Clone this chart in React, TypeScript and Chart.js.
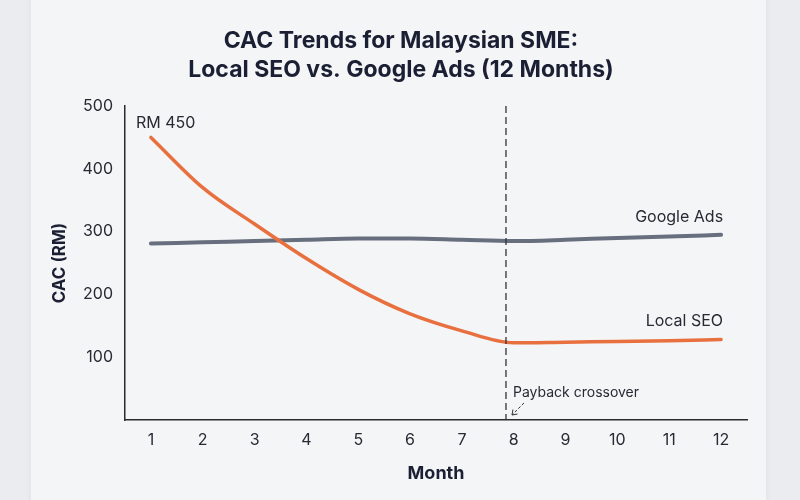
import { useEffect, useRef } from "react";
import { Chart, registerables } from "chart.js";

Chart.register(...registerables);

const months = ["1", "2", "3", "4", "5", "6", "7", "8", "9", "10", "11", "12"];
const localSEO = [450, 370, 312, 257, 208, 169, 142, 123, 124, 125, 126, 128];
const googleAds = [281, 283, 285, 287, 289, 289, 287, 285, 287, 290, 292, 295];
const yTicks = [100, 200, 300, 400, 500];
const crossoverIndex = 6.85; // category index (month 7.85)
const titleLines = ["CAC Trends for Malaysian SME:", "Local SEO vs. Google Ads (12 Months)"];
const startLabel = "RM 450";
const crossoverLabel = "Payback crossover";

const FONT = "Inter, 'Noto Sans', sans-serif";
const ORANGE = "#E8703F";
const GRAY = "#676E7D";
const TEXT = "#262a33";

const decorPlugin = {
  id: "decor",
  beforeDraw(chart: any) {
    const { ctx, width, height } = chart;
    ctx.save();
    ctx.fillStyle = "#eaecef";
    ctx.fillRect(0, 0, width, height);
    ctx.shadowColor = "rgba(0,0,0,0.06)";
    ctx.shadowBlur = 6;
    ctx.fillStyle = "#f4f5f7";
    ctx.fillRect(31, -10, 735, height + 20);
    ctx.restore();

    // title
    ctx.save();
    ctx.fillStyle = "#1b1f33";
    ctx.font = `bold 23px ${FONT}`;
    ctx.textAlign = "center";
    ctx.textBaseline = "middle";
    titleLines.forEach((t, i) => ctx.fillText(t, 401, 41 + i * 28.7));
    ctx.restore();
  },
  afterDatasetsDraw(chart: any) {
    const { ctx, chartArea, scales } = chart;
    const x = scales.x;
    const y = scales.y;
    ctx.save();
    // dashed crossover line
    const dx = x.getPixelForValue(crossoverIndex);
    ctx.strokeStyle = "#333";
    ctx.lineWidth = 1.3;
    ctx.setLineDash([7, 4]);
    ctx.beginPath();
    ctx.moveTo(dx, chartArea.top);
    ctx.lineTo(dx, chartArea.bottom);
    ctx.stroke();

    // arrow
    const ax1 = dx + 18, ay1 = chartArea.bottom - 17;
    const ax2 = dx + 6, ay2 = chartArea.bottom - 5;
    ctx.lineWidth = 1;
    ctx.setLineDash([3, 2]);
    ctx.beginPath();
    ctx.moveTo(ax1, ay1);
    ctx.lineTo(ax2, ay2);
    ctx.stroke();
    ctx.setLineDash([]);
    ctx.beginPath();
    ctx.moveTo(ax2, ay2);
    ctx.lineTo(ax2 + 5.5, ay2 - 1);
    ctx.moveTo(ax2, ay2);
    ctx.lineTo(ax2 + 1, ay2 - 5.5);
    ctx.stroke();

    ctx.fillStyle = TEXT;
    ctx.textBaseline = "middle";
    ctx.font = `14px ${FONT}`;
    ctx.textAlign = "left";
    ctx.fillText(crossoverLabel, dx + 7, chartArea.bottom - 27);

    // start label
    ctx.font = `16px ${FONT}`;
    const p0x = x.getPixelForValue(0);
    const p0y = y.getPixelForValue(localSEO[0]);
    ctx.fillText(startLabel, p0x - 15, p0y - 14);

    // series labels
    const last = months.length - 1;
    const lx = x.getPixelForValue(last) + 2;
    ctx.textAlign = "right";
    ctx.fillText("Google Ads", lx, y.getPixelForValue(googleAds[last]) - 18);
    ctx.fillText("Local SEO", lx, y.getPixelForValue(localSEO[last]) - 18);
    ctx.restore();
  },
};

export default function App() {
  const ref = useRef<HTMLCanvasElement | null>(null);
  useEffect(() => {
    document.body.style.margin = "0";
    if (!ref.current) return;
    const chart = new Chart(ref.current, {
      type: "line",
      data: {
        labels: months,
        datasets: [
          {
            label: "Local SEO",
            data: localSEO,
            borderColor: ORANGE,
            borderWidth: 3.5,
            pointRadius: 0,
            cubicInterpolationMode: "monotone",
            borderCapStyle: "round",
            order: 0,
          },
          {
            label: "Google Ads",
            data: googleAds,
            borderColor: GRAY,
            borderWidth: 4,
            pointRadius: 0,
            cubicInterpolationMode: "monotone",
            borderCapStyle: "round",
            order: 1,
          },
        ],
      },
      options: {
        responsive: false,
        animation: false,
        devicePixelRatio: 1,
        layout: { padding: { left: 0, right: 53, top: 106, bottom: 0 } },
        plugins: {
          legend: { display: false },
          tooltip: { enabled: false },
          title: { display: false },
        },
        scales: {
          x: {
            type: "category",
            offset: true,
            grid: { display: false, drawTicks: false },
            border: { display: true, color: "#2b2b2b", width: 1.5 },
            ticks: { color: TEXT, font: { family: FONT, size: 16 }, padding: 11, maxRotation: 0, autoSkip: false },
            title: {
              display: true,
              text: "Month",
              color: "#1b1f33",
              font: { family: FONT, size: 18, weight: "bold", lineHeight: 1.2 },
              padding: { top: 0, bottom: 16 },
            },
            afterFit: (s: any) => {
              s.height = 80;
            },
          },
          y: {
            type: "linear",
            min: 0,
            max: 500,
            grid: { display: false, drawTicks: false },
            border: { display: true, color: "#2b2b2b", width: 1.5 },
            ticks: { color: TEXT, font: { family: FONT, size: 16 }, padding: 12 },
            afterBuildTicks: (s: any) => {
              s.ticks = yTicks.map((v) => ({ value: v }));
            },
            title: {
              display: true,
              text: "CAC (RM)",
              color: "#1b1f33",
              font: { family: FONT, size: 17, weight: "bold", lineHeight: 1.2 },
              padding: { top: 50, bottom: 0 },
            },
            afterFit: (s: any) => {
              s.width = 125;
            },
          },
        },
      },
      plugins: [decorPlugin],
    } as any);
    return () => chart.destroy();
  }, []);
  return (
    <div style={{ width: 800, height: 500 }}>
      <canvas ref={ref} width={800} height={500} style={{ display: "block" }} />
    </div>
  );
}
